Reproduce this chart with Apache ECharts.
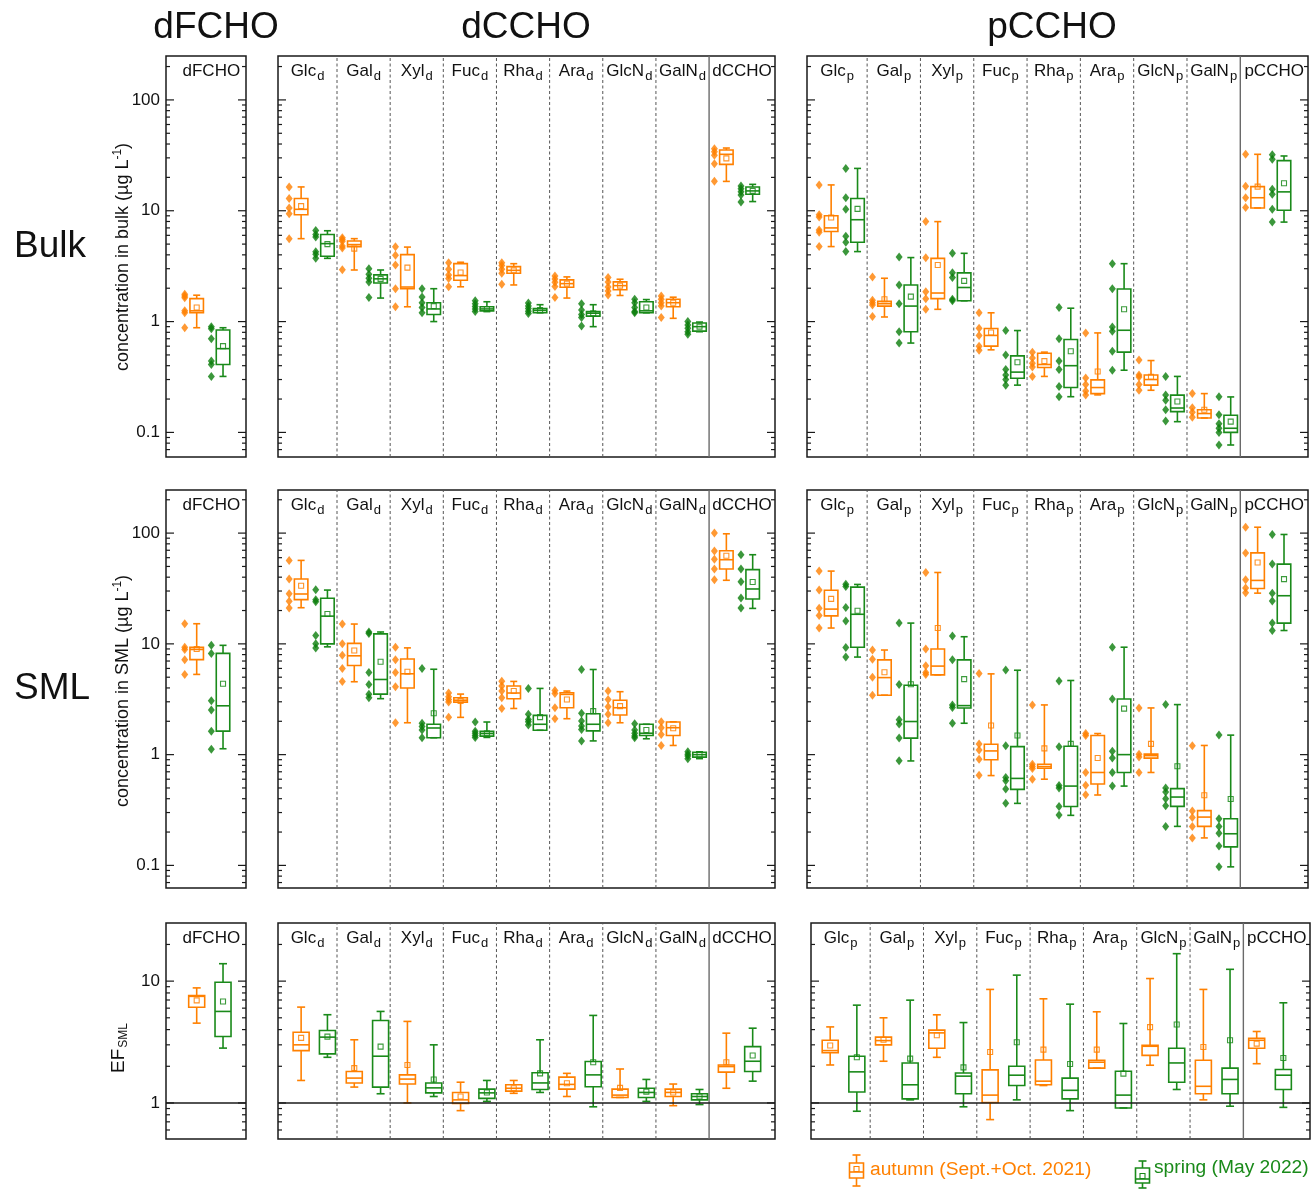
<!DOCTYPE html>
<html><head><meta charset="utf-8">
<script src="https://cdn.jsdelivr.net/npm/echarts@6/dist/echarts.min.js"></script>
<style>html,body{margin:0;padding:0;background:#fff}#c{width:1315px;height:1192px}</style>
</head><body><div id="c"></div><script>
const FONT = "'Liberation Sans', Arial, Helvetica, sans-serif";
const ORANGE = '#FF8000';
const GREEN = '#1A8A1A';

// ---------- categories ----------
const catsF = ['dFCHO'];
const catsD = ['Glc','Gal','Xyl','Fuc','Rha','Ara','GlcN','GalN','dCCHO'];
const catsP = ['Glc','Gal','Xyl','Fuc','Rha','Ara','GlcN','GalN','pCCHO'];

// ---------- box statistics: [whisker low, Q1, median, Q3, whisker high, mean] ----------
// Bulk
const bulkF_aut = [[0.88,1.2,1.25,1.61,1.73,1.34]];
const bulkF_spr = [[0.32,0.41,0.57,0.84,0.88,0.60]];
const bulkD_aut = [[5.6,9.2,10.3,12.9,16.4,11.0],[2.92,4.75,4.95,5.34,5.6,4.55],[1.36,1.98,2.05,4.02,4.7,3.07],[2.06,2.36,2.6,3.33,3.43,2.77],[2.14,2.73,2.9,3.13,3.33,2.9],[1.63,2.04,2.2,2.38,2.53,2.2],[1.72,1.94,2.11,2.28,2.41,2.11],[1.07,1.36,1.48,1.59,1.66,1.48],[18.4,26.2,32.3,35.3,36.8,29.7]];
const bulkD_spr = [[3.72,3.88,5.05,6.1,6.6,5.0],[1.63,2.23,2.43,2.64,2.92,2.43],[1.0,1.16,1.3,1.48,1.98,1.38],[1.23,1.25,1.3,1.36,1.51,1.3],[1.2,1.2,1.26,1.31,1.42,1.27],[0.90,1.12,1.19,1.23,1.42,1.19],[1.2,1.2,1.25,1.51,1.58,1.34],[0.81,0.82,0.9,0.97,0.99,0.9],[12.1,14.1,15.1,16.4,17.3,15.1]];
const bulkP_aut = [[4.75,6.5,7.0,9.0,17.1,8.7],[1.1,1.38,1.45,1.52,2.46,1.59],[1.29,1.61,1.81,3.72,7.98,3.24],[0.556,0.6,0.75,0.865,1.2,0.796],[0.32,0.385,0.41,0.518,0.53,0.44],[0.218,0.224,0.254,0.298,0.79,0.354],[0.24,0.267,0.3,0.33,0.445,0.317],[0.135,0.135,0.148,0.16,0.224,0.16],[10.6,10.6,13.1,16.5,32.3,16.5]];
const bulkP_spr = [[4.28,5.2,8.3,12.9,24.1,10.4],[0.64,0.81,1.38,2.14,3.78,1.68],[1.54,1.54,2.03,2.75,4.13,2.33],[0.267,0.308,0.35,0.49,0.83,0.43],[0.21,0.254,0.40,0.69,1.32,0.54],[0.364,0.53,0.835,1.97,3.33,1.29],[0.125,0.154,0.166,0.217,0.32,0.19],[0.077,0.1,0.109,0.143,0.209,0.125],[7.9,10.1,14.8,28.3,31.2,17.7]];
// SML
const smlF_aut = [[5.3,7.2,8.9,9.3,15.2,9.0]];
const smlF_spr = [[1.13,1.63,2.76,8.2,9.7,4.36]];
const smlD_aut = [[21.2,25.1,28.2,38.5,56.7,33.5],[4.55,6.38,7.8,10.1,15.1,8.7],[1.94,4.0,5.37,7.3,9.2,5.6],[2.17,2.98,3.1,3.26,3.52,3.05],[2.61,3.2,3.6,4.16,4.58,3.75],[2.11,2.65,3.5,3.62,3.75,3.15],[1.94,2.28,2.65,3.1,3.7,2.74],[1.21,1.49,1.75,1.97,1.98,1.73],[37.5,47.4,57.5,69.3,98.6,62.5]];
const smlD_spr = [[9.4,10,17.8,25.8,30.6,18.6],[3.2,3.52,4.77,12.3,12.8,6.9],[1.42,1.42,1.74,1.88,5.9,2.36],[1.43,1.47,1.55,1.62,1.97,1.56],[1.66,1.66,1.88,2.26,3.96,2.18],[1.33,1.64,1.88,2.34,5.87,2.47],[1.39,1.49,1.56,1.88,1.88,1.67],[0.92,0.95,1.0,1.05,1.06,1.0],[20.9,25.4,31.3,46.8,63.8,36.2]];
const smlP_aut = [[13.9,17.9,20.6,30.5,45.4,25.5],[3.44,3.44,4.96,7.17,8.8,5.55],[5.25,5.25,6.3,9.0,44.1,13.9],[0.647,0.90,1.08,1.24,5.36,1.83],[0.6,0.753,0.78,0.818,2.81,1.14],[0.432,0.543,0.69,1.49,1.55,0.933],[0.69,0.93,0.98,1.01,2.64,1.25],[0.177,0.225,0.273,0.312,1.21,0.43],[28.7,31.6,37.4,66.3,113,54.3]];
const smlP_spr = [[7.6,9.33,18.5,32.5,34.4,19.9],[0.877,1.41,1.99,4.23,15.4,4.32],[1.92,2.64,2.77,7.17,11.6,4.8],[0.363,0.486,0.61,1.18,5.78,1.49],[0.283,0.34,0.52,1.19,4.67,1.25],[0.52,0.69,1.0,3.18,9.33,2.6],[0.225,0.341,0.414,0.493,2.83,0.785],[0.097,0.147,0.193,0.264,1.5,0.398],[13.2,15.4,27.2,52.5,97.2,38.4]];
// EF SML
const efF_aut = [[4.52,6.1,7.5,7.6,8.8,6.95]];
const efF_spr = [[2.82,3.51,5.64,9.8,13.9,6.8]];
const efD_aut = [[1.53,2.69,3.0,3.81,6.12,3.42],[1.35,1.46,1.6,1.81,3.3,1.93],[1.0,1.43,1.57,1.7,4.67,2.05],[0.865,0.99,1.06,1.22,1.48,1.13],[1.2,1.25,1.32,1.41,1.53,1.32],[1.13,1.3,1.42,1.63,1.75,1.45],[1.11,1.11,1.16,1.3,1.9,1.33],[0.95,1.13,1.22,1.3,1.43,1.22],[1.32,1.79,1.99,2.05,3.74,2.16]];
const efD_spr = [[2.37,2.53,3.47,3.93,5.3,3.5],[1.19,1.35,2.42,4.75,5.64,2.9],[1.13,1.21,1.33,1.46,3.0,1.56],[1.03,1.09,1.21,1.3,1.53,1.22],[1.22,1.29,1.46,1.77,3.3,1.75],[0.93,1.36,1.7,2.19,5.23,2.16],[1.03,1.11,1.22,1.32,1.56,1.24],[0.97,1.06,1.13,1.19,1.29,1.13],[1.51,1.81,2.2,2.9,4.11,2.45]];
const efP_aut = [[2.05,2.58,2.69,3.27,4.21,2.96],[2.2,3.0,3.25,3.47,5.0,3.3],[2.37,2.81,3.76,3.96,5.29,3.6],[0.73,1.01,1.16,1.87,8.55,2.62],[1.39,1.41,1.51,2.25,7.16,2.74],[1.93,1.93,2.16,2.24,5.6,2.74],[2.04,2.46,2.92,2.98,10.5,4.19],[1.06,1.19,1.37,2.24,8.55,2.88],[2.1,2.81,3.27,3.4,3.86,3.07]];
const efP_spr = [[0.855,1.23,1.8,2.42,6.35,2.37],[1.06,1.08,1.41,2.13,6.98,2.31],[0.93,1.19,1.66,1.76,4.57,1.96],[1.06,1.39,1.69,2.0,11.2,3.15],[0.865,1.08,1.27,1.6,6.47,2.09],[0.91,0.91,1.16,1.82,4.49,1.74],[1.29,1.48,2.13,2.81,16.8,4.4],[0.94,1.19,1.56,1.93,12.5,3.27],[0.92,1.29,1.69,1.88,6.64,2.34]];

// ---------- individual samples ----------
const bulkF_autPts = [[1.76,1.70,1.64,1.25,1.20,0.88]];
const bulkF_sprPts = [[0.90,0.86,0.70,0.44,0.41,0.32]];
const bulkD_autPts = [[16.4,12.9,10.6,9.4,5.6],[5.7,5.5,5.3,4.8,4.6,2.94],[4.74,3.97,3.24,1.98,1.36],[3.4,2.96,2.63,2.45,2.06],[3.4,3.2,2.96,2.73,2.17],[2.58,2.42,2.26,2.07,1.65],[2.5,2.28,2.05,1.89,1.74],[1.7,1.59,1.48,1.38,1.09],[36.3,34,31.7,26.5,18.5]];
const bulkD_sprPts = [[6.65,6.1,5.8,4.27,4.05,3.72],[3.0,2.67,2.46,2.28,1.65],[1.98,1.67,1.48,1.34,1.2],[1.54,1.45,1.37,1.30,1.23],[1.47,1.38,1.31,1.24,1.18],[1.45,1.27,1.16,1.09,0.91],[1.59,1.48,1.34,1.23,1.2],[1.0,0.93,0.87,0.81,0.77],[16.7,15.8,14.8,13.9,12.0]];
const bulkP_autPts = [[17.1,9.2,8.8,6.7,6.4,4.75],[2.53,1.56,1.48,1.41,1.11],[8.0,3.77,1.86,1.61,1.29],[1.2,0.87,0.75,0.60,0.55],[0.53,0.47,0.42,0.39,0.32],[0.79,0.31,0.27,0.237,0.218],[0.45,0.33,0.317,0.27,0.24],[0.224,0.167,0.152,0.137],[32.3,16.6,13.1,10.7]];
const bulkP_sprPts = [[24,13.1,10.3,5.9,5.2,4.28],[3.83,2.14,1.45,0.81,0.64],[4.13,2.76,2.5,1.59,1.54],[0.83,0.50,0.37,0.33,0.30,0.267],[1.34,0.70,0.44,0.37,0.26,0.21],[3.33,1.98,0.895,0.82,0.54,0.364],[0.32,0.217,0.195,0.16,0.127],[0.21,0.144,0.12,0.109,0.1,0.077],[32,29.1,15.6,14.1,10.3,7.9]];
const smlF_autPts = [[15.2,9.3,8.9,7.2,5.3]];
const smlF_sprPts = [[9.7,8.2,3.07,2.53,1.63,1.12]];
const smlD_autPts = [[56.7,38.5,28.3,24.2,21.1],[15.1,10,7.9,6.0,4.58],[9.3,7.2,5.5,4.1,1.94],[3.6,3.33,3.15,2.98,2.18],[4.6,4.16,3.75,3.26,2.61],[3.8,3.57,2.65,2.11],[3.75,3.15,2.7,2.31,1.94],[1.98,1.75,1.52,1.21],[100,69,58,47.5,38]];
const smlD_sprPts = [[30.8,25,24,11.9,10,9.2],[12.8,12.4,5.5,4.3,3.5,3.26],[6.0,1.92,1.79,1.67,1.42],[1.97,1.63,1.56,1.49,1.43],[3.96,2.31,2.08,1.98,1.85],[5.87,2.36,2.01,1.81,1.69,1.33],[1.9,1.67,1.56,1.47,1.42],[1.06,1.01,0.97,0.92],[63.8,47.5,36.3,25.9,21.1]];
const smlP_autPts = [[45.6,30.7,21,18.0,13.9],[8.8,7.25,5.0,3.44],[44,9.0,6.35,5.5,5.3],[5.4,1.25,1.1,0.91,0.65],[2.8,0.82,0.78,0.75,0.6],[1.55,1.49,0.69,0.53,0.434],[2.64,1.01,0.95,0.69],[1.2,0.31,0.27,0.225,0.177],[113,66,38,32,29]];
const smlP_sprPts = [[34.6,33,21.3,16.1,9.25,7.6],[15.4,4.29,2.06,1.89,1.41,0.88],[11.8,7.17,2.81,2.67,1.92],[5.8,1.2,0.62,0.58,0.49,0.363],[4.63,1.18,0.525,0.5,0.34,0.285],[9.3,3.18,1.07,0.93,0.69,0.52],[2.83,0.50,0.46,0.40,0.345,0.225],[1.5,0.264,0.225,0.195,0.15,0.097],[97,52.5,28.6,24.4,15.4,13.2]];

// ---------- layout ----------
const ROWS = [
  {top:56, height:401, ymin:0.06, ymax:249},
  {top:490, height:398, ymin:0.0625, ymax:245},
  {top:923, height:216, ymin:0.506, ymax:30}
];
const COLS = [
  {left:166, width:80, xmin:0.248, xmax:1.752},
  {left:278, width:497, xmin:0.39, xmax:9.74},
  {left:807, width:501, xmin:0.372, xmax:9.77}
];

const panels = [
  {r:0,c:0,cats:catsF,sub:'',aut:bulkF_aut,spr:bulkF_spr,aP:bulkF_autPts,sP:bulkF_sprPts},
  {r:0,c:1,cats:catsD,sub:'d',aut:bulkD_aut,spr:bulkD_spr,aP:bulkD_autPts,sP:bulkD_sprPts},
  {r:0,c:2,cats:catsP,sub:'p',aut:bulkP_aut,spr:bulkP_spr,aP:bulkP_autPts,sP:bulkP_sprPts},
  {r:1,c:0,cats:catsF,sub:'',aut:smlF_aut,spr:smlF_spr,aP:smlF_autPts,sP:smlF_sprPts},
  {r:1,c:1,cats:catsD,sub:'d',aut:smlD_aut,spr:smlD_spr,aP:smlD_autPts,sP:smlD_sprPts},
  {r:1,c:2,cats:catsP,sub:'p',aut:smlP_aut,spr:smlP_spr,aP:smlP_autPts,sP:smlP_sprPts},
  {r:2,c:0,cats:catsF,sub:'',aut:efF_aut,spr:efF_spr},
  {r:2,c:1,cats:catsD,sub:'d',aut:efD_aut,spr:efD_spr},
  {r:2,c:2,cats:catsP,sub:'p',aut:efP_aut,spr:efP_spr,sym:true,left:811,width:499,xmin:0.39,xmax:9.75}
];

const grids = [], xAxes = [], yAxes = [], series = [];

function tickValues(lo, hi) {
  const out = [];
  for (let e = -3; e <= 3; e++) for (let k = 1; k <= 9; k++) {
    const v = +(k * Math.pow(10, e)).toPrecision(3);
    if (v > lo * 1.001 && v < hi * 0.999) out.push([v, k === 1 ? 1 : 0]);
  }
  return out;
}
function isPow10(v) { const l = Math.log10(v); return Math.abs(l - Math.round(l)) < 1e-6; }

function boxRender(color, bw, cw) {
  return function (params, api) {
    const x = api.value(0);
    const lo = api.coord([x, api.value(1)]), q1 = api.coord([x, api.value(2)]),
          md = api.coord([x, api.value(3)]), q3 = api.coord([x, api.value(4)]),
          hi = api.coord([x, api.value(5)]), mn = api.coord([x, api.value(6)]);
    const cx = md[0], h = bw / 2, c = cw / 2;
    const st = {stroke: color, lineWidth: 1.6, fill: 'none'};
    return {type: 'group', children: [
      {type:'line', shape:{x1:cx,y1:hi[1],x2:cx,y2:q3[1]}, style:st},
      {type:'line', shape:{x1:cx,y1:q1[1],x2:cx,y2:lo[1]}, style:st},
      {type:'line', shape:{x1:cx-c,y1:hi[1],x2:cx+c,y2:hi[1]}, style:st},
      {type:'line', shape:{x1:cx-c,y1:lo[1],x2:cx+c,y2:lo[1]}, style:st},
      {type:'rect', shape:{x:cx-h,y:q3[1],width:bw,height:q1[1]-q3[1]}, style:st},
      {type:'line', shape:{x1:cx-h,y1:md[1],x2:cx+h,y2:md[1]}, style:st},
      {type:'rect', shape:{x:cx-2.5,y:mn[1]-2.5,width:5,height:5}, style:{stroke:color,lineWidth:1.1,fill:'none',opacity:0.85}}
    ]};
  };
}

panels.forEach((p, gi) => {
  const R = ROWS[p.r], C = COLS[p.c];
  const left = p.left || C.left, width = p.width || C.width;
  const xmin = p.xmin || C.xmin, xmax = p.xmax || C.xmax;
  const ymin = R.ymin, ymax = R.ymax;
  grids.push({left, top:R.top, width, height:R.height, show:true, borderColor:'#1a1a1a', borderWidth:1.5, backgroundColor:'rgba(0,0,0,0)'});
  xAxes.push({type:'value', gridIndex:gi, min:xmin, max:xmax, show:false});
  yAxes.push({type:'log', logBase:10, gridIndex:gi, min:ymin, max:ymax,
    axisLine:{show:false}, axisTick:{show:false}, splitLine:{show:false},
    axisLabel:{show:p.c === 0, margin:6, color:'#111', fontSize:17, fontFamily:FONT,
      formatter: v => isPow10(v) ? String(+(+v).toPrecision(3)) : ''}});

  // axis ticks on both sides (major at decades, minor at 2..9)
  series.push({type:'custom', xAxisIndex:gi, yAxisIndex:gi, silent:true, z:5,
    data: tickValues(ymin, ymax),
    encode:{y:0},
    renderItem: (params, api) => {
      const v = api.value(0), major = api.value(1);
      const pL = api.coord([xmin, v]), pR = api.coord([xmax, v]);
      const len = major ? 8 : 4;
      const st = {stroke:'#1a1a1a', lineWidth:1.2};
      return {type:'group', children:[
        {type:'line', shape:{x1:pL[0], y1:pL[1], x2:pL[0]+len, y2:pL[1]}, style:st},
        {type:'line', shape:{x1:pR[0]-len, y1:pR[1], x2:pR[0], y2:pR[1]}, style:st}
      ]};
    }});

  // separators between categories
  const n = p.cats.length;
  if (n > 1) {
    const sep = [];
    for (let i = 1; i < n; i++) sep.push([i + 0.5, i === n - 1 ? 1 : 0]);
    series.push({type:'custom', xAxisIndex:gi, yAxisIndex:gi, silent:true, z:1, data:sep,
      renderItem: (params, api) => {
        const x = api.value(0), solid = api.value(1);
        const a = api.coord([x, ymin]), b = api.coord([x, ymax]);
        return {type:'line', shape:{x1:a[0], y1:a[1], x2:b[0], y2:b[1]},
          style: solid ? {stroke:'#6a6a6a', lineWidth:1.4} : {stroke:'#555', lineWidth:1, lineDash:[3,2.5]}};
      }});
  }

  // category labels
  const labs = p.cats.map((c, i) => {
    const lo = i === 0 ? xmin : i + 0.5;
    const hi = i === n - 1 ? xmax : i + 1.5;
    let xc = (lo + hi) / 2;
    if (n === 1) xc += 0.1;
    return [xc, i];
  });
  series.push({type:'custom', xAxisIndex:gi, yAxisIndex:gi, silent:true, z:6, data:labs,
    renderItem: (params, api) => {
      const xc = api.value(0), i = api.value(1);
      const name = p.cats[i];
      const isTotal = i === n - 1;
      const txt = isTotal ? '{m|' + name + '}' : '{m|' + name + '}{s|' + p.sub + '}';
      const pt = api.coord([xc, ymax]);
      return {type:'text', x:pt[0], y:pt[1] + 15,
        style:{text:txt, align:'center', verticalAlign:'middle', fill:'#111',
          rich:{m:{fontSize:17, fontFamily:FONT, fill:'#111'}, s:{fontSize:13, fontFamily:FONT, fill:'#111', padding:[10,0,0,1]}}}};
    }});

  // unity line for EF row
  if (p.r === 2) {
    series.push({type:'custom', xAxisIndex:gi, yAxisIndex:gi, silent:true, z:4, data:[[1]],
      encode:{y:0},
      renderItem: (params, api) => {
        const v = api.value(0);
        const a = api.coord([xmin, v]), b = api.coord([xmax, v]);
        return {type:'line', shape:{x1:a[0], y1:a[1], x2:b[0], y2:b[1]}, style:{stroke:'#1a1a1a', lineWidth:1.6}};
      }});
  }

  const boxOff = p.sym ? [-0.25, 0.25] : [-0.175, 0.32];
  const ptOff = [-0.40, 0.10];
  const bw = p.r === 2 ? 16 : 13.5;
  const cw = p.r === 2 ? 8 : 7;
  [[p.aut, ORANGE, 0, p.aP], [p.spr, GREEN, 1, p.sP]].forEach(([stats, col, k, pts]) => {
    series.push({type:'custom', xAxisIndex:gi, yAxisIndex:gi, silent:true, z:3,
      data: stats.map((s, i) => [i + 1 + boxOff[k]].concat(s)),
      encode:{x:0, y:[1,2,3,4,5,6]},
      renderItem: boxRender(col, bw, cw)});
    if (pts) {
      const d = [];
      pts.forEach((arr, i) => arr.forEach(v => d.push([i + 1 + ptOff[k], v])));
      series.push({type:'scatter', xAxisIndex:gi, yAxisIndex:gi, silent:true, z:4,
        symbol:'diamond', symbolSize:[7, 9], data:d,
        itemStyle:{color: k === 0 ? '#FF8000' : '#0A7D0A'}});
    }
  });
});

const T = (x, y, text, size, extra) => Object.assign({type:'text', x, y,
  style:{text, fontSize:size, fontFamily:FONT, fill:'#111', align:'center', verticalAlign:'middle'}}, extra || {});

const graphic = [
  T(216, 28, 'dFCHO', 37),
  T(526, 28, 'dCCHO', 37),
  T(1052, 28, 'pCCHO', 37),
  {type:'text', x:14, y:247, style:{text:'Bulk', fontSize:37, fontFamily:FONT, fill:'#111', align:'left', verticalAlign:'middle'}},
  {type:'text', x:14, y:689, style:{text:'SML', fontSize:37, fontFamily:FONT, fill:'#111', align:'left', verticalAlign:'middle'}},
  {type:'text', x:123, y:257, rotation:Math.PI/2,
    style:{text:'{m|concentration in bulk (µg L}{p|-1}{m|)}', align:'center', verticalAlign:'middle',
      rich:{m:{fontSize:18, fontFamily:FONT, fill:'#111'}, p:{fontSize:12, fontFamily:FONT, fill:'#111', padding:[0,0,10,0]}}}},
  {type:'text', x:123, y:691, rotation:Math.PI/2,
    style:{text:'{m|concentration in SML (µg L}{p|-1}{m|)}', align:'center', verticalAlign:'middle',
      rich:{m:{fontSize:18, fontFamily:FONT, fill:'#111'}, p:{fontSize:12, fontFamily:FONT, fill:'#111', padding:[0,0,10,0]}}}},
  {type:'text', x:119, y:1048, rotation:Math.PI/2,
    style:{text:'{m|EF}{s|SML}', align:'center', verticalAlign:'middle',
      rich:{m:{fontSize:19, fontFamily:FONT, fill:'#111'}, s:{fontSize:12, fontFamily:FONT, fill:'#111', padding:[10,0,0,1]}}}}
];

function legendIcon(cx, yTop, yBoxTop, yBoxBot, yBot, yMean, yMed, color) {
  const st = {stroke: color, lineWidth: 1.6, fill: 'none'};
  return {type:'group', children:[
    {type:'line', shape:{x1:cx, y1:yTop, x2:cx, y2:yBoxTop}, style:st},
    {type:'line', shape:{x1:cx, y1:yBoxBot, x2:cx, y2:yBot}, style:st},
    {type:'line', shape:{x1:cx-4, y1:yTop, x2:cx+4, y2:yTop}, style:st},
    {type:'line', shape:{x1:cx-4, y1:yBot, x2:cx+4, y2:yBot}, style:st},
    {type:'rect', shape:{x:cx-7, y:yBoxTop, width:14, height:yBoxBot-yBoxTop}, style:st},
    {type:'line', shape:{x1:cx-7, y1:yMed, x2:cx+7, y2:yMed}, style:st},
    {type:'rect', shape:{x:cx-2.5, y:yMean-2.5, width:5, height:5}, style:{stroke:color, lineWidth:1.1, fill:'none'}}
  ]};
}
graphic.push(legendIcon(856.5, 1155, 1163, 1178, 1186, 1169, 1172, ORANGE));
graphic.push({type:'text', x:870, y:1170, style:{text:'autumn (Sept.+Oct. 2021)', fontSize:19.2, fontFamily:FONT, fill:ORANGE, align:'left', verticalAlign:'middle'}});
graphic.push(legendIcon(1142.5, 1161, 1168, 1183, 1188, 1176, 1179, GREEN));
graphic.push({type:'text', x:1154, y:1168, style:{text:'spring (May 2022)', fontSize:19.2, fontFamily:FONT, fill:GREEN, align:'left', verticalAlign:'middle'}});

const chart = echarts.init(document.getElementById('c'), null, {renderer:'canvas'});
chart.setOption({animation:false, backgroundColor:'#fff', textStyle:{fontFamily:FONT},
  grid:grids, xAxis:xAxes, yAxis:yAxes, series, graphic});
</script></body></html>
